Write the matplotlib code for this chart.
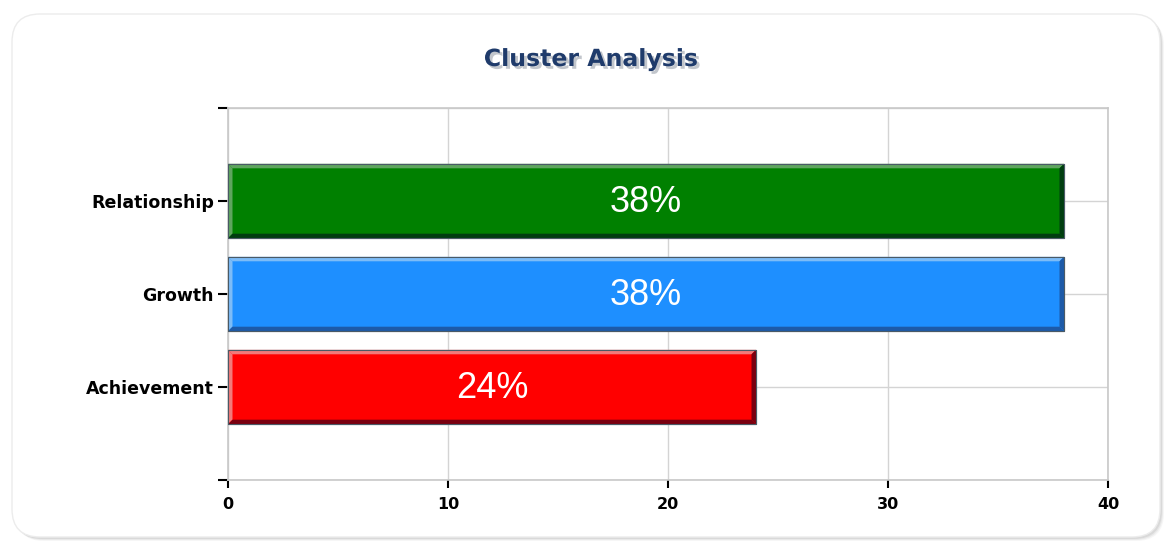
import numpy as np
import matplotlib.pyplot as plt
import matplotlib.patheffects as pe
from matplotlib.patches import FancyBboxPatch, Polygon, Rectangle

categories = ['Achievement', 'Growth', 'Relationship']
values     = [24, 38, 38]
labels     = ['24%', '38%', '38%']
fill       = ['#ff0000', '#1e8fff', '#008000']
light      = ['#f27a7a', '#7dbcf7', '#5fa55f']
dark       = ['#7a0010', '#1d5aa8', '#003d10']

W, H = 1172, 543
fig = plt.figure(figsize=(W / 100, H / 100), dpi=100)
fig.patch.set_facecolor('white')

# card with soft shadow
for k, a in enumerate([0.06, 0.09, 0.13]):
    off = 4 - k
    fig.patches.append(FancyBboxPatch((12 + off, 6 - off), 1148, 523,
                                      boxstyle='round,pad=0,rounding_size=28',
                                      transform=None, facecolor='#707070',
                                      edgecolor='none', alpha=a, zorder=0))
fig.patches.append(FancyBboxPatch((12, 6), 1148, 523,
                                  boxstyle='round,pad=0,rounding_size=28',
                                  transform=None, facecolor='white',
                                  edgecolor='#ececec', lw=1.0, zorder=1))

ax = fig.add_axes([228 / W, 1 - 480 / H, 880 / W, 372 / H])
ax.set_zorder(2)
ax.set_facecolor('none')

ypos = np.arange(len(categories))
h = 0.8
ax.barh(ypos, values, height=h, color=fill, edgecolor='#4a5a66', lw=0.8, zorder=3)

# bevel strips, sized in pixels
bx = 4.5 * 40 / 880
by = 4.5 * 4 / 372
for y, v, lc, dc in zip(ypos, values, light, dark):
    y0, y1 = y - h / 2, y + h / 2
    ax.add_patch(Polygon([(0, y1), (v, y1), (v - bx, y1 - by), (bx, y1 - by)],
                         closed=True, facecolor=lc, edgecolor='none', zorder=4))
    ax.add_patch(Polygon([(0, y0), (0, y1), (bx, y1 - by), (bx, y0 + by)],
                         closed=True, facecolor=lc, edgecolor='none', zorder=4))
    ax.add_patch(Polygon([(0, y0), (v, y0), (v - bx, y0 + by), (bx, y0 + by)],
                         closed=True, facecolor=dc, edgecolor='none', zorder=4))
    ax.add_patch(Polygon([(v, y0), (v, y1), (v - bx, y1 - by), (v - bx, y0 + by)],
                         closed=True, facecolor=dc, edgecolor='none', zorder=4))
    ax.add_patch(Rectangle((0, y0), v, h, facecolor='none', edgecolor='#4a5a66',
                           lw=0.8, zorder=5))

for y, v, t in zip(ypos, values, labels):
    ax.text(v / 2, y - 0.02, t, ha='center', va='center', color='white',
            fontsize=26, family='Liberation Sans', zorder=6)

ax.set_xlim(0, 40)
ax.set_ylim(-1, 3)
ax.set_xticks([0, 10, 20, 30, 40])
ax.set_yticks([-1, 0, 1, 2, 3])
ax.set_yticklabels([''] + categories + [''])
ax.grid(True, color='#d4d4d4', lw=1.0, zorder=1)
for s in ax.spines.values():
    s.set_color('#c8c8c8')
    s.set_linewidth(1.2)
ax.tick_params(axis='both', colors='black', length=6, width=1.5)
ax.tick_params(axis='y', length=7, pad=3)
ax.tick_params(axis='x', pad=6)
for lab in ax.get_yticklabels():
    lab.set_fontweight('bold')
    lab.set_fontsize(12.5)
for lab in ax.get_xticklabels():
    lab.set_fontweight('bold')
    lab.set_fontsize(11.5)

# title with shadow
fig.text(591 / W, 1 - 59 / H, 'Cluster Analysis', ha='center', va='center',
         fontsize=17, fontweight='bold', color='#1f3b6b', zorder=4,
         path_effects=[pe.withSimplePatchShadow(offset=(2, -2),
                                                shadow_rgbFace='#9aa0aa',
                                                alpha=0.6)])

plt.savefig('out.png', dpi=100)
